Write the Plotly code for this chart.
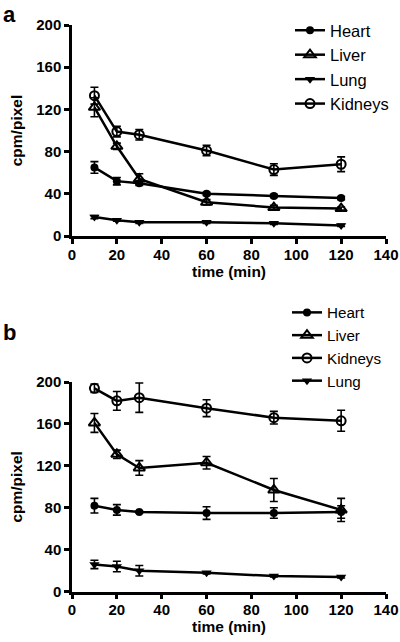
import plotly.graph_objects as go

time = [10, 20, 30, 60, 90, 120]

# Panel a
a_heart = [65, 52, 50, 40, 38, 36]
a_heart_err = [5.5, 3.5, 2, 1.5, 1.5, 1.5]
a_liver = [122, 85, 54, 32, 27, 26]
a_liver_err = [9, 3, 5, 2.5, 2, 1.5]
a_lung = [18, 15, 13, 13, 12, 10]
a_lung_err = [1.5, 1, 1, 1, 1, 1]
a_kidneys = [133, 99, 96, 81, 63, 68]
a_kidneys_err = [8, 5, 5, 5, 5.5, 7]

# Panel b
b_heart = [82, 78, 76, 75, 75, 76]
b_heart_err = [7, 5, 1, 6, 5, 6]
b_liver = [161, 131, 118, 123, 97, 78]
b_liver_err = [9, 4, 7, 6, 11, 11]
b_kidneys = [194, 182, 185, 175, 166, 163]
b_kidneys_err = [4, 9, 14, 8, 6, 10]
b_lung = [26, 24, 20, 18, 15, 14]
b_lung_err = [4, 5, 5, 1, 1, 1]

xticks = [0, 20, 40, 60, 80, 100, 120, 140]
yticks = [0, 40, 80, 120, 160, 200]

FONT = "Liberation Sans, Arial, sans-serif"
W, H = 400, 642

styles = {
    "Heart": dict(symbol="circle", size=8, color="black"),
    "Liver": dict(symbol="triangle-up-open", size=10, color="black", line=dict(width=2, color="black")),
    "Lung": dict(symbol="triangle-down", size=9, color="black"),
    "Kidneys": dict(symbol="circle-open", size=9, color="black", line=dict(width=2, color="black")),
}

fig = go.Figure()

def add(name, y, err, xa, ya, legend):
    fig.add_trace(go.Scatter(
        x=time, y=y, name=name, mode="lines+markers",
        line=dict(color="black", width=2.5),
        marker=styles[name],
        error_y=dict(type="data", array=err, visible=True, color="black", thickness=1.6, width=4),
        xaxis=xa, yaxis=ya, legend=legend, cliponaxis=False,
    ))

add("Heart", a_heart, a_heart_err, "x", "y", "legend")
add("Liver", a_liver, a_liver_err, "x", "y", "legend")
add("Lung", a_lung, a_lung_err, "x", "y", "legend")
add("Kidneys", a_kidneys, a_kidneys_err, "x", "y", "legend")

add("Heart", b_heart, b_heart_err, "x2", "y2", "legend2")
add("Liver", b_liver, b_liver_err, "x2", "y2", "legend2")
add("Kidneys", b_kidneys, b_kidneys_err, "x2", "y2", "legend2")
add("Lung", b_lung, b_lung_err, "x2", "y2", "legend2")

xdom = [72 / W, 386 / W]
ydom_a = [1 - 236 / H, 1 - 25 / H]
ydom_b = [1 - 591.7 / H, 1 - 382 / H]

def xax(anchor):
    return dict(domain=xdom, anchor=anchor, range=[0, 140], tickvals=xticks, automargin=False,
                showgrid=False, zeroline=False, showline=True, linecolor="black", linewidth=2.5,
                ticks="outside", ticklen=5, tickwidth=2.5, tickcolor="black", ticklabelstandoff=-2,
                tickfont=dict(family=FONT, size=15, color="black", weight="bold"),
                title=dict(text="<b>time (min)</b>", font=dict(family=FONT, size=15.5, color="black"), standoff=0))

def yax(anchor, dom):
    return dict(domain=dom, anchor=anchor, range=[0, 200], tickvals=yticks, automargin=False,
                showgrid=False, zeroline=False, showline=True, linecolor="black", linewidth=2.5,
                ticks="outside", ticklen=5, tickwidth=2.5, tickcolor="black",
                tickfont=dict(family=FONT, size=15, color="black", weight="bold"),
                title=dict(text="<b>cpm/pixel</b>", font=dict(family=FONT, size=15.5, color="black"), standoff=10))

def legend_style(size):
    return dict(font=dict(family=FONT, size=size, color="black"), bgcolor="rgba(0,0,0,0)",
                xanchor="left", yanchor="top", tracegroupgap=0, itemwidth=30)

fig.update_layout(
    width=W, height=H, margin=dict(l=0, r=0, t=0, b=0, autoexpand=False),
    paper_bgcolor="white", plot_bgcolor="white",
    showlegend=True,
    xaxis=xax("y"), yaxis=yax("x", ydom_a),
    xaxis2=xax("y2"), yaxis2=yax("x2", ydom_b),
    legend=dict(x=290 / W, y=1 - 13 / H, **legend_style(16.5)),
    legend2=dict(x=287 / W, y=1 - 296 / H, **legend_style(15.2)),
    annotations=[
        dict(text="<b>a</b>", x=1 / W, y=1 - 0 / H, xref="paper", yref="paper", xanchor="left", yanchor="top",
             showarrow=False, font=dict(family=FONT, size=22, color="black")),
        dict(text="<b>b</b>", x=1 / W, y=1 - 318 / H, xref="paper", yref="paper", xanchor="left", yanchor="top",
             showarrow=False, font=dict(family=FONT, size=22, color="black")),
    ],
)

fig.write_html("out.html", config={"displayModeBar": False},
               post_script="document.body.style.margin='0';document.body.style.overflow='hidden';")
